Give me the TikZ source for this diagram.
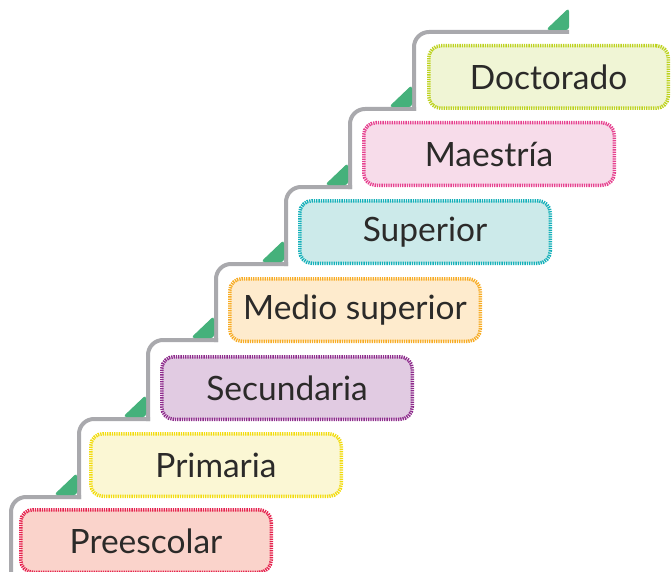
\documentclass[tikz,border=0pt]{standalone}
\usepackage{fontspec}
\setmainfont{Lato}

\definecolor{stairgray}{HTML}{A9A9AD}
\definecolor{stepgreen}{HTML}{45B17B}
\definecolor{labelink}{HTML}{2B2A29}
\definecolor{preFill}{HTML}{FAD3CB}
\definecolor{preLine}{HTML}{E5234F}
\definecolor{priFill}{HTML}{FBF7D4}
\definecolor{priLine}{HTML}{F2DC0F}
\definecolor{secFill}{HTML}{E1CBE2}
\definecolor{secLine}{HTML}{8E2C8C}
\definecolor{medFill}{HTML}{FEEBCD}
\definecolor{medLine}{HTML}{F7AC25}
\definecolor{supFill}{HTML}{CCEAEA}
\definecolor{supLine}{HTML}{14B0B9}
\definecolor{maeFill}{HTML}{F7DCEA}
\definecolor{maeLine}{HTML}{E6418F}
\definecolor{docFill}{HTML}{F0F5D5}
\definecolor{docLine}{HTML}{BDD21F}

\tikzset{
  levelbox/.style={rounded corners=12pt, line width=3.5pt,
    dash pattern=on 1.3pt off 1pt, minimum width=250.5pt,
    minimum height=62.5pt, text=labelink,
    font=\fontsize{33.5}{40}\selectfont},
  stair/.style={stairgray, line width=4pt, rounded corners=15pt, line cap=rect},
  marker/.style={fill=stepgreen, draw=stepgreen, line width=1pt, rounded corners=2.5pt}
}

\begin{document}
\begin{tikzpicture}[x=1pt, y=-1pt]
    \useasboundingbox (0,0) rectangle (671,572);

    % The staircase (one piece per step)
    \draw[stair] (11,580) |- (79,497);
    \draw[stair] (79,497) |- (148,419);
    \draw[stair] (148,419) |- (216,340);
    \draw[stair] (216,340) |- (286,264);
    \draw[stair] (286,264) |- (350,187);
    \draw[stair] (350,187) |- (414,109);
    \draw[stair] (414,109) |- (567,32);

    % Green corner markers
    \filldraw[marker] (76.5,494.5) -- (76.5,474) -- (55,494.5) -- cycle;
    \filldraw[marker] (145.5,416.5) -- (145.5,396) -- (124,416.5) -- cycle;
    \filldraw[marker] (213.5,337.5) -- (213.5,317) -- (192,337.5) -- cycle;
    \filldraw[marker] (283.5,261.5) -- (283.5,241) -- (262,261.5) -- cycle;
    \filldraw[marker] (347.5,184.5) -- (347.5,164) -- (326,184.5) -- cycle;
    \filldraw[marker] (411.5,106.5) -- (411.5,86) -- (390,106.5) -- cycle;
    \filldraw[marker] (568.5,29.5) -- (568.5,9) -- (547,29.5) -- cycle;

    % School levels
    \node[levelbox, fill=preFill, draw=preLine] (preescolar) at (146,541) {Preescolar};
    \node[levelbox, fill=priFill, draw=priLine] (primaria) at (216,465) {Primaria};
    \node[levelbox, fill=secFill, draw=secLine] (secundaria) at (287,388) {Secundaria};
    \node[levelbox, fill=medFill, draw=medLine] (medio) at (355,310) {Medio superior};
    \node[levelbox, fill=supFill, draw=supLine] (superior) at (425,232) {Superior};
    \node[levelbox, fill=maeFill, draw=maeLine] (maestria) at (489,154) {Maestría};
    \node[levelbox, fill=docFill, draw=docLine, minimum width=239.5pt] (doctorado) at (548.5,77) {Doctorado};
\end{tikzpicture}
\end{document}
